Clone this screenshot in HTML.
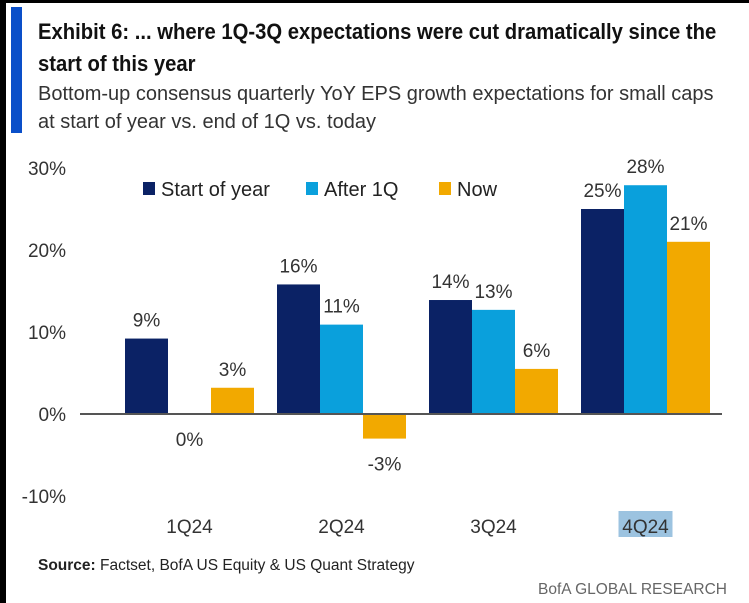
<!DOCTYPE html>
<html><head><meta charset="utf-8"><style>
body{margin:0;width:749px;height:603px;background:#fff;overflow:hidden;position:relative;font-family:"Liberation Sans",sans-serif;}
.bd{position:absolute;background:#000}
.t{position:absolute;white-space:nowrap;color:#222}
</style></head><body>
<div class="bd" style="left:0;top:0;width:6px;height:603px"></div>
<div class="bd" style="left:0;top:0;width:749px;height:3px"></div>
<div style="position:absolute;left:11px;top:7px;width:11px;height:126px;background:#0a4fc9"></div>
<div class="t" style="left:38px;top:16px;font-size:22px;font-weight:bold;color:#111;line-height:32px;transform:scaleX(0.92);transform-origin:0 0">Exhibit 6: ... where 1Q-3Q expectations were cut dramatically since the<br>start of this year</div>
<div class="t" style="left:38px;top:80px;font-size:20px;color:#333;line-height:28px">Bottom-up consensus quarterly YoY EPS growth expectations for small caps<br>at start of year vs. end of 1Q vs. today</div>
<svg id="chart" width="749" height="603" style="position:absolute;left:0;top:0"></svg>
<div class="t" style="left:38px;top:557px;font-size:15.5px;color:#222"><b>Source:</b> Factset, BofA US Equity &amp; US Quant Strategy</div>
<div class="t" style="right:22px;top:581px;font-size:15.5px;color:#666">BofA GLOBAL RESEARCH</div>
<script>
const categories=["1Q24","2Q24","3Q24","4Q24"];
const seriesNames=["Start of year","After 1Q","Now"];
const startOfYear=[9.2,15.8,13.9,25.0];
const after1Q=[0,10.9,12.7,27.9];
const now=[3.2,-3.0,5.5,21.0];
const yTicks=[30,20,10,0,-10];
const colors=["#0b2265","#0aa0dc","#f2a900"];
const svg=document.getElementById('chart');
const NS="http://www.w3.org/2000/svg";
const y=v=>414-v*8.2;
const gx=i=>125+i*152;
const bw=43;
function mk(tag,at){const e=document.createElementNS(NS,tag);for(const k in at)e.setAttribute(k,at[k]);svg.appendChild(e);return e;}
const F='"Liberation Sans",sans-serif';
yTicks.forEach(v=>{const t=mk('text',{x:66,y:y(v)+7,'text-anchor':'end','font-size':19,fill:'#333','font-family':F});t.textContent=v+'%';

});
const series=[startOfYear,after1Q,now];
series.forEach((s,k)=>{s.forEach((v,i)=>{const x=gx(i)+k*bw;
const r=mk('rect',{x:x,y:Math.min(y(v),y(0)),width:bw,height:Math.abs(y(v)-y(0)),fill:colors[k]});


const t=mk('text',{x:x+bw/2,y:v<0?y(v)+32:(v===0?y(0)+32:y(v)-12),'text-anchor':'middle','font-size':19,fill:'#333','font-family':F});
t.textContent=Math.round(v)+'%';

});});
const ax=mk('line',{x1:80,x2:722,y1:y(0),y2:y(0),stroke:'#555','stroke-width':2});


categories.forEach((c,i)=>{const cx=gx(i)+bw*1.5;
if(i===3){const h=mk('rect',{x:cx-27,y:511,width:54,height:26,fill:'#9cc3e0'});}
const t=mk('text',{x:cx,y:533,'text-anchor':'middle','font-size':19,fill:'#333','font-family':F});t.textContent=c;

});
const lx=[143,306,439];
seriesNames.forEach((n,k)=>{const r=mk('rect',{x:lx[k],y:182,width:12,height:13,fill:colors[k]});


const t=mk('text',{x:lx[k]+18,y:196,'font-size':20,fill:'#222','font-family':F});t.textContent=n;

});
</script>
</body></html>
